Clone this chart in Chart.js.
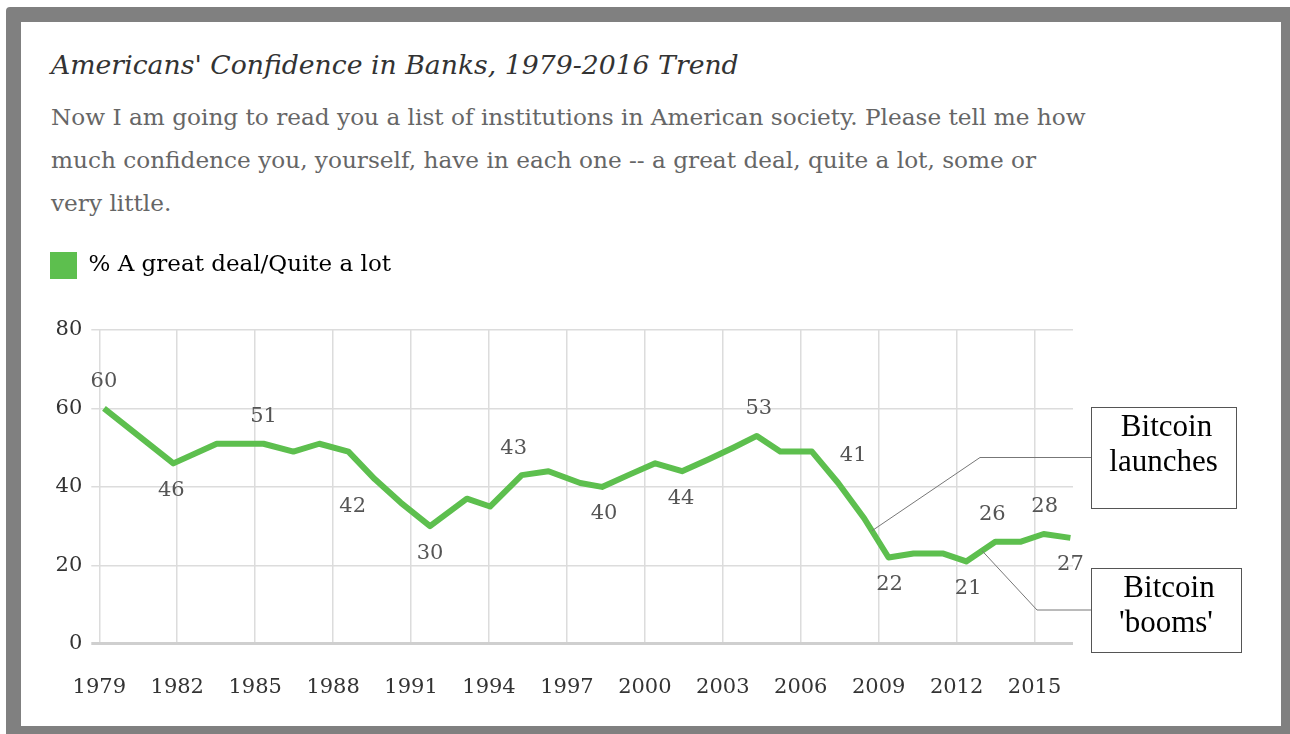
<!DOCTYPE html>
<html><head><meta charset="utf-8">
<script src="https://cdn.jsdelivr.net/npm/chart.js@4.4.0/dist/chart.umd.min.js"></script>
<style>
html,body{margin:0;padding:0;background:#fff;width:1290px;height:734px;overflow:hidden;}
#card{position:absolute;left:6px;top:7px;width:1290px;height:734px;box-sizing:border-box;border:15px solid #808080;border-radius:4px;background:#fff;}
#title{position:absolute;left:51px;top:49px;font:italic 26.7px "DejaVu Serif",serif;color:#333;white-space:nowrap;line-height:32px;}
#sub{position:absolute;left:51px;top:95px;font:23.2px "DejaVu Serif",serif;color:#666;line-height:43px;white-space:nowrap;}
#wrap{position:absolute;left:0;top:230px;width:1290px;height:504px;}
</style></head>
<body>
<div id="card"></div>
<div id="title">Americans' Confidence in Banks, 1979-2016 Trend</div>
<div id="sub">Now I am going to read you a list of institutions in American society. Please tell me how<br>much confidence you, yourself, have in each one -- a great deal, quite a lot, some or<br>very little.</div>
<div id="wrap"><canvas id="c"></canvas></div>
<script>
// ---- data ----
const seriesName = "% A great deal/Quite a lot";
const surveyYears = [1979.18,1981.85,1983.52,1984.42,1985.32,1986.47,1987.47,1988.59,1989.6,1990.6,1991.73,1993.15,1994.04,1995.26,1996.29,1997.51,1998.35,1999.36,2000.4,2001.43,2002.44,2003.4,2004.31,2005.21,2006.43,2007.44,2008.44,2009.38,2010.34,2011.49,2012.37,2013.49,2014.45,2015.35,2016.38];
const confidence = [60,46,51,51,51,49,51,49,42,36,30,37,35,43,44,41,40,43,46,44,47,50,53,49,49,41,32,22,23,23,21,26,26,28,27];
const tickYears = [1979,1982,1985,1988,1991,1994,1997,2000,2003,2006,2009,2012,2015];
const yTicks = [0,20,40,60,80];
// labelled points (index into the series)
const labelIndex = [0,1,4,8,10,13,16,19,22,25,27,30,31,33,34];
const labelSide  = ['up','down','up','down','down','up','down','down','up','up','down','down','up','up','down'];
const labelShift = [0,-2,0,-22,0,-8,2,-1,2,15,1,2,-3,1,0];
const noteText = [["Bitcoin","launches"],["Bitcoin","'booms'"]];
const noteYears = [2008.74, 2012.98];

const GREEN = '#5dbf4e';
const SERIF = '"DejaVu Serif", serif';

const pts = surveyYears.map((x,i)=>({x, y: confidence[i]}));

function valueAt(year){
  for(let i=0;i<surveyYears.length-1;i++){
    const a=surveyYears[i], b=surveyYears[i+1];
    if(year>=a && year<=b){ return confidence[i] + (confidence[i+1]-confidence[i])*(year-a)/(b-a); }
  }
  return confidence[confidence.length-1];
}

const legendSpacer = {
  id:'legendSpacer',
  beforeInit(chart){
    const fit = chart.legend.fit;
    chart.legend.fit = function(){ fit.bind(chart.legend)(); this.height += 41; };
  }
};

const valueLabels = {
  id:'valueLabels',
  afterDatasetsDraw(chart){
    const {ctx, scales:{x, y}} = chart;
    ctx.save();
    ctx.font = '21px ' + SERIF;
    ctx.fillStyle = '#555';
    ctx.textAlign = 'center';
    ctx.textBaseline = 'middle';
    labelIndex.forEach((idx,k)=>{
      const px = x.getPixelForValue(surveyYears[idx]) + labelShift[k];
      const py = y.getPixelForValue(confidence[idx]) + (labelSide[k]==='up' ? -27 : 27);
      ctx.fillText(String(confidence[idx]), px, py);
    });
    ctx.restore();
  }
};

const notes = {
  id:'notes',
  afterDraw(chart){
    const {ctx, chartArea:a, scales:{x, y}} = chart;
    const boxes = [
      {l:a.right+18, t:a.top+77, w:145, h:101, elbowX:a.right-93},
      {l:a.right+18, t:a.top+238, w:150, h:84, elbowX:a.right-36}
    ];
    ctx.save();
    boxes.forEach((b,i)=>{
      const ax = x.getPixelForValue(noteYears[i]);
      const ay = y.getPixelForValue(valueAt(noteYears[i]));
      const my = b.t + b.h/2;
      ctx.strokeStyle = '#777';
      ctx.lineWidth = 1;
      ctx.beginPath();
      ctx.moveTo(b.l, my); ctx.lineTo(b.elbowX, my); ctx.lineTo(ax, ay);
      ctx.stroke();
      ctx.fillStyle = '#fff';
      ctx.fillRect(b.l, b.t, b.w, b.h);
      ctx.strokeStyle = '#555';
      ctx.strokeRect(b.l+0.5, b.t+0.5, b.w, b.h);
      ctx.fillStyle = '#000';
      ctx.font = '31px "Liberation Serif", "Times New Roman", serif';
      ctx.textAlign = 'center';
      ctx.textBaseline = 'middle';
      noteText[i].forEach((s,j)=> ctx.fillText(s, b.l + b.w/2 + (j===0?3:0), b.t + 21 + j*35));
    });
    ctx.restore();
  }
};

new Chart(document.getElementById('c'), {
  type:'line',
  data:{ datasets:[{
    label: seriesName,
    data: pts,
    borderColor: GREEN,
    backgroundColor: GREEN,
    borderWidth: 6,
    pointRadius: 0,
    pointHoverRadius: 0,
    tension: 0,
    borderJoinStyle: 'round',
    fill: false
  }]},
  options:{
    responsive:true,
    maintainAspectRatio:false,
    animation:false,
    events:[],
    layout:{ padding:{ left:40, right:217, top:12, bottom:3 } },
    plugins:{
      legend:{
        display:true, position:'top', align:'start',
        labels:{
          boxWidth:27, boxHeight:27, padding:10,
          color:'#333', font:{ family:SERIF, size:23 },
          generateLabels:(chart)=>chart.data.datasets.map((ds,i)=>({
            text: ds.label, fillStyle: GREEN, strokeStyle: GREEN, lineWidth: 0, hidden:false, datasetIndex:i
          }))
        }
      },
      title:{display:false},
      tooltip:{enabled:false}
    },
    scales:{
      x:{
        type:'linear', min:1979, max:2016.48,
        afterBuildTicks:(s)=>{ s.ticks = tickYears.map(v=>({value:v})); },
        ticks:{ color:'#333', font:{family:SERIF, size:21}, padding:31, maxRotation:0, autoSkip:false,
          callback:(v)=>String(v) },
        grid:{ color:'#dcdcdc', lineWidth:1.5, drawTicks:false },
        border:{ display:false }
      },
      y:{
        min:0, max:80,
        afterBuildTicks:(s)=>{ s.ticks = yTicks.map(v=>({value:v})); },
        afterFit:(s)=>{ s.width = 59.3; },
        ticks:{ color:'#333', font:{family:SERIF, size:21}, padding:9, callback:(v)=>String(v) },
        grid:{
          color:(c)=> c.tick && c.tick.value===0 ? '#cfcfcf' : '#dcdcdc',
          lineWidth:(c)=> c.tick && c.tick.value===0 ? 3 : 1.5,
          drawTicks:true, tickLength:8
        },
        border:{ display:false }
      }
    }
  },
  plugins:[legendSpacer, valueLabels, notes]
});
</script>
</body></html>
